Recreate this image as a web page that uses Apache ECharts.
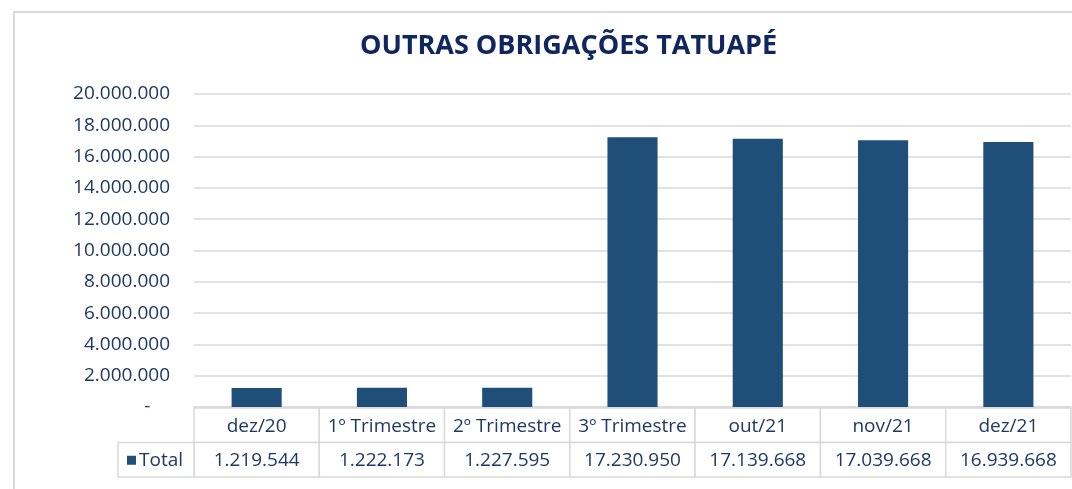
<!DOCTYPE html>
<html>
<head>
<meta charset="utf-8">
<script src="https://cdn.jsdelivr.net/npm/echarts@6/dist/echarts.min.js"></script>
<style>
  html, body { margin: 0; padding: 0; background: #fff; }
  #main { width: 1072px; height: 489px; }
</style>
</head>
<body>
<div id="main"></div>
<script>
// dados
var categories = ['dez/20', '1º Trimestre', '2º Trimestre', '3º Trimestre', 'out/21', 'nov/21', 'dez/21'];
var totals = [1219544, 1222173, 1227595, 17230950, 17139668, 17039668, 16939668];
var seriesName = 'Total';
var titleText = 'OUTRAS OBRIGAÇÕES TATUAPÉ';

var navy = '#1F3864';
var titleColor = '#0F2660';
var barColor = '#1F4E79';
var lineColor = '#D9D9D9';
var fontName = 'Open Sans';

// 1234567 -> 1.234.567
function fmtBR(v) {
  return String(Math.round(v)).replace(/\B(?=(\d{3})+(?!\d))/g, '.');
}

// tabela de dados: linha 0 = categorias, linha 1 = valores
var tableData = [];
for (var i = 0; i < categories.length; i++) {
  tableData.push([i, 0]);
  tableData.push([i, 1]);
}

function cellText(xi, yi) {
  return yi === 0 ? categories[xi] : fmtBR(totals[xi]);
}

var myChart = echarts.init(document.getElementById('main'));
var option = {
  animation: false,
  title: {
    text: titleText,
    left: 360,
    top: 33,
    padding: 0,
    textStyle: { color: titleColor, fontSize: 27, fontWeight: 'bold', fontFamily: fontName }
  },
  graphic: [{
    type: 'rect',
    shape: { x: 14, y: 12, width: 1100, height: 500 },
    style: { fill: 'none', stroke: lineColor, lineWidth: 2 },
    silent: true
  }],
  grid: [
    { left: 194, right: 1, top: 94, bottom: 82 },
    { left: 194, right: 1, top: 408, height: 69 }
  ],
  xAxis: [
    {
      type: 'category', gridIndex: 0, data: categories,
      axisLine: { lineStyle: { color: lineColor, width: 1.5 } },
      axisTick: { show: false },
      axisLabel: { show: false }
    },
    { type: 'category', gridIndex: 1, data: categories, show: false }
  ],
  yAxis: [
    {
      type: 'value', gridIndex: 0, min: 0, max: 20000000, interval: 2000000,
      axisLine: { show: false },
      axisTick: { show: false },
      splitLine: { lineStyle: { color: lineColor, width: 1.5 } },
      axisLabel: {
        color: navy, fontSize: 19, fontFamily: fontName, margin: 24,
        formatter: function (v) { return v === 0 ? '-    ' : fmtBR(v); }
      }
    },
    { type: 'category', gridIndex: 1, data: ['cat', 'val'], inverse: true, show: false }
  ],
  series: [
    {
      name: seriesName,
      type: 'bar',
      xAxisIndex: 0, yAxisIndex: 0,
      data: totals,
      barWidth: '40%',
      itemStyle: { color: barColor }
    },
    {
      type: 'custom',
      xAxisIndex: 1, yAxisIndex: 1,
      data: tableData,
      renderItem: function (params, api) {
        var xi = api.value(0), yi = api.value(1);
        var c = api.coord([xi, yi]);
        var sz = api.size([1, 1]);
        var w = sz[0], h = sz[1];
        var kids = [{
          type: 'rect',
          shape: { x: c[0] - w / 2, y: c[1] - h / 2, width: w, height: h },
          style: { fill: '#fff', stroke: lineColor, lineWidth: 1.5 }
        }, {
          type: 'text',
          style: {
            text: cellText(xi, yi), x: c[0], y: c[1] + 1,
            align: 'center', verticalAlign: 'middle',
            fill: navy, font: '19px "' + fontName + '"'
          }
        }];
        if (xi === 0 && yi === 1) {
          // célula da legenda "Total" à esquerda
          var lw = 76, lx = c[0] - w / 2 - lw;
          kids.push({
            type: 'rect',
            shape: { x: lx, y: c[1] - h / 2, width: lw, height: h },
            style: { fill: '#fff', stroke: lineColor, lineWidth: 1.5 }
          }, {
            type: 'rect',
            shape: { x: lx + 9, y: c[1] - 4, width: 9, height: 9 },
            style: { fill: barColor }
          }, {
            type: 'text',
            style: {
              text: seriesName, x: lx + 21, y: c[1] + 1,
              align: 'left', verticalAlign: 'middle',
              fill: navy, font: '19px "' + fontName + '"'
            }
          });
        }
        return { type: 'group', children: kids };
      }
    }
  ]
};
myChart.setOption(option);
window.onresize = myChart.resize;
</script>
</body>
</html>
